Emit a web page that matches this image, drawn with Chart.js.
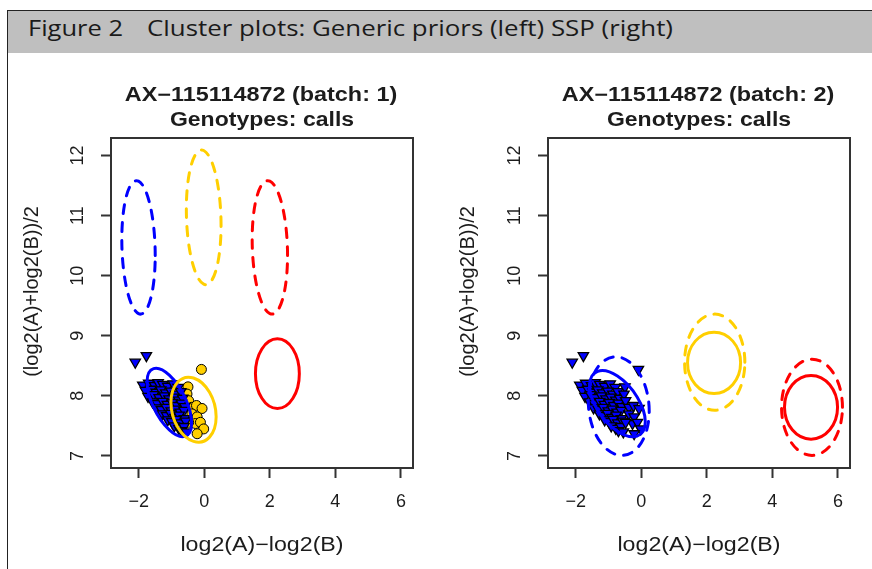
<!DOCTYPE html>
<html><head><meta charset="utf-8">
<script src="https://cdn.jsdelivr.net/npm/chart.js@4/dist/chart.umd.min.js"></script>
<style>
html,body{margin:0;padding:0;background:#fff;}
#page{position:relative;width:872px;height:569px;overflow:hidden;background:#fff;}
#frame{position:absolute;left:7px;top:10px;width:900px;height:600px;border-left:1px solid #222;border-top:1px solid #222;}
#hdr{position:absolute;left:8px;top:11px;width:864px;height:42px;background:#bfbfbf;}
.ht{position:absolute;top:18px;font-family:"Open Sans",Roboto,sans-serif;font-size:21px;color:#1a1a1a;line-height:21px;white-space:nowrap;transform-origin:0 50%;}
canvas{position:absolute;top:0;}
</style></head><body>
<div id="page">
 <div id="frame"></div>
 <div id="hdr"></div>
 <span class="ht" id="h1" style="left:28px" data-w="95">Figure 2</span>
 <span class="ht" id="h2" style="left:147px" data-w="526">Cluster plots: Generic priors (left) SSP (right)</span>
 <canvas id="c1" width="436" height="569" style="left:0;width:436px;height:569px"></canvas>
 <canvas id="c2" width="436" height="569" style="left:436px;width:436px;height:569px"></canvas>
</div>
<script>
// ---------- data ----------
const xTickValues = [-2, 0, 2, 4, 6];
const xTickLabels = ['\u22122', '0', '2', '4', '6'];
const yTickValues = [7, 8, 9, 10, 11, 12];
const yTickLabels = ['7', '8', '9', '10', '11', '12'];

const titleBatch1 = ['AX\u2212115114872 (batch: 1)', 'Genotypes: calls'];
const titleBatch2 = ['AX\u2212115114872 (batch: 2)', 'Genotypes: calls'];
const xAxisTitle = 'log2(A)\u2212log2(B)';
const yAxisTitle = '(log2(A)+log2(B))/2';

// blue (triangle) calls
const blueX = [-2.11, -1.77,
  -1.88, -1.70, -1.52, -1.41, -1.27, -1.12, -0.95, -0.80,
  -1.80, -1.63, -1.47, -1.33, -1.18, -1.02, -0.87, -0.72,
  -1.72, -1.55, -1.38, -1.22, -1.08, -0.93, -0.78, -0.66,
  -1.58, -1.44, -1.27, -1.13, -0.98, -0.84, -0.70, -0.60,
  -1.46, -1.31, -1.16, -1.01, -0.88, -0.74, -0.62,
  -1.28, -1.15, -1.03, -0.90, -0.77, -0.61,
  -1.12, -0.99, -0.86, -0.72, -0.57,
  -0.92, -0.78, -0.62,
  -0.70, -0.55];
const blueY = [8.56, 8.67,
  8.18, 8.21, 8.17, 8.22, 8.19, 8.16, 8.20, 8.14,
  8.09, 8.11, 8.06, 8.10, 8.05, 8.08, 8.03, 8.07,
  7.99, 8.02, 7.97, 8.00, 7.95, 7.98, 7.93, 7.96,
  7.90, 7.87, 7.91, 7.86, 7.89, 7.84, 7.88, 7.82,
  7.80, 7.77, 7.81, 7.75, 7.78, 7.73, 7.76,
  7.70, 7.67, 7.71, 7.64, 7.68, 7.62,
  7.60, 7.57, 7.61, 7.55, 7.58,
  7.50, 7.46, 7.49,
  7.42, 7.40];
// gold (circle) calls
const goldX = [-0.09, -0.50, -0.53, -0.48, -0.38, -0.24, -0.07, -0.38, -0.22, -0.27, -0.48, -0.12, -0.02, -0.22];
const goldY = [8.44, 8.15, 8.03, 7.92, 7.81, 7.84, 7.79, 7.70, 7.65, 7.54, 7.56, 7.56, 7.45, 7.37];

// cluster ellipses, order: blue, gold, red
const b1PriorCX = [-2.01, -0.02, 2.00];
const b1PriorCY = [10.47, 10.97, 10.47];
const b1PriorSX = [0.51, 0.53, 0.54];
const b1PriorSY = [1.11, 1.12, 1.11];
const b1PriorRho = [-0.12, -0.12, -0.12];
const b1PostCX = [-1.07, -0.33, 2.23];
const b1PostCY = [7.89, 7.77, 8.37];
const b1PostSX = [0.68, 0.69, 0.67];
const b1PostSY = [0.57, 0.54, 0.58];
const b1PostRho = [-0.6, -0.22, 0];

const b2PriorCX = [-0.69, 2.24, 5.21];
const b2PriorCY = [7.83, 8.56, 7.81];
const b2PriorSX = [0.93, 0.92, 0.93];
const b2PriorSY = [0.82, 0.80, 0.80];
const b2PriorRho = [-0.1, 0, 0];
const b2PostCX = [-0.73, 2.22, 5.18];
const b2PostCY = [7.87, 8.55, 7.81];
const b2PostSX = [0.85, 0.81, 0.81];
const b2PostSY = [0.55, 0.51, 0.53];
const b2PostRho = [-0.55, 0, 0];

// ---------- header text width fit ----------
document.querySelectorAll('.ht').forEach(el => {
  const w = el.getBoundingClientRect().width;
  const target = parseFloat(el.dataset.w);
  if (w > 0) el.style.transform = 'scaleX(' + (target / w) + ')';
});

// ---------- styling ----------
const clusterColors = ['#0000ff', '#ffcf00', '#ff0000'];
const FONT = '"Liberation Sans", Arial, Helvetica, sans-serif';
const textColor = '#1c1c1c';

function pts(xs, ys) { return xs.map((x, i) => ({ x: x, y: ys[i] })); }

const boxPlugin = {
  id: 'rbox',
  afterDraw(chart) {
    const a = chart.chartArea, ctx = chart.ctx;
    ctx.save();
    ctx.strokeStyle = '#333';
    ctx.lineWidth = 2;
    ctx.strokeRect(a.left, a.top, a.right - a.left, a.bottom - a.top);
    ctx.restore();
  }
};

function ellipsePlugin(sets) {
  return {
    id: 'ellipses',
    afterDatasetsDraw(chart) {
      const ctx = chart.ctx, xs = chart.scales.x, ys = chart.scales.y, a = chart.chartArea;
      const kx = xs.getPixelForValue(1) - xs.getPixelForValue(0);
      const ky = ys.getPixelForValue(1) - ys.getPixelForValue(0);
      ctx.save();
      ctx.beginPath();
      ctx.rect(a.left, a.top, a.right - a.left, a.bottom - a.top);
      ctx.clip();
      sets.forEach(s => {
        for (let i = 0; i < s.cx.length; i++) {
          const px = xs.getPixelForValue(s.cx[i]), py = ys.getPixelForValue(s.cy[i]);
          const r = s.rho[i], q = Math.sqrt(1 - r * r);
          ctx.save();
          ctx.transform(kx * s.sx[i], ky * s.sy[i] * r, 0, ky * s.sy[i] * q, px, py);
          ctx.beginPath();
          ctx.arc(0, 0, 1, 0, Math.PI * 2);
          ctx.restore();
          ctx.lineWidth = 3;
          ctx.lineCap = 'round';
          ctx.strokeStyle = clusterColors[i];
          ctx.setLineDash(s.dash);
          ctx.stroke();
        }
      });
      ctx.restore();
    }
  };
}

function drawScaled(ctx, text, x, y, font, sx, sy) {
  ctx.save();
  ctx.translate(x, y);
  ctx.scale(sx, sy);
  ctx.font = font;
  ctx.fillText(text, 0, 0);
  ctx.restore();
}

function textPlugin(lines) {
  return {
    id: 'rtext',
    afterDraw(chart) {
      const ctx = chart.ctx, a = chart.chartArea;
      const cx = (a.left + a.right) / 2;
      ctx.save();
      ctx.fillStyle = textColor;
      ctx.textAlign = 'center';
      ctx.textBaseline = 'alphabetic';
      drawScaled(ctx, lines[0], cx - 1, 101, 'bold 19.5px ' + FONT, 1.2, 1);
      drawScaled(ctx, lines[1], cx, 126, 'bold 19.5px ' + FONT, 1.18, 1);
      drawScaled(ctx, xAxisTitle, cx, 551, '20px ' + FONT, 1.16, 1);
      ctx.save();
      ctx.translate(38, 291.5);
      ctx.rotate(-Math.PI / 2);
      ctx.font = '20px ' + FONT;
      ctx.fillText(yAxisTitle, 0, 0);
      ctx.restore();
      ctx.restore();
    }
  };
}

function makeChart(id, datasets, lines, ellipseSets, area) {
  const tickFont = { family: FONT, size: 18 };
  return new Chart(document.getElementById(id), {
    type: 'scatter',
    data: { datasets: datasets },
    options: {
      responsive: false,
      animation: false,
      devicePixelRatio: 1,
      events: [],
      layout: { padding: { left: area.left - 60, right: 436 - area.right, top: area.top, bottom: 569 - area.bottom - 60 } },
      plugins: { legend: { display: false }, tooltip: { enabled: false }, title: { display: false } },
      scales: {
        x: {
          type: 'linear', min: -2.85, max: 6.37,
          afterBuildTicks: s => { s.ticks = xTickValues.map(v => ({ value: v })); },
          afterFit: s => { s.height = 60; },
          ticks: { callback: (v, i) => xTickLabels[i], font: tickFont, color: textColor, padding: 13, maxRotation: 0, minRotation: 0, autoSkip: false },
          grid: { drawOnChartArea: false, drawTicks: true, tickLength: 10, tickWidth: 2, tickColor: '#333' },
          border: { display: false }
        },
        y: {
          type: 'linear', min: 6.80, max: 12.29,
          afterBuildTicks: s => { s.ticks = yTickValues.map(v => ({ value: v })); },
          afterFit: s => { s.width = 60; },
          ticks: { callback: (v, i) => yTickLabels[i], font: tickFont, color: textColor, padding: 13, minRotation: 90, maxRotation: 90, crossAlign: 'center', autoSkip: false },
          grid: { drawOnChartArea: false, drawTicks: true, tickLength: 10, tickWidth: 2, tickColor: '#333' },
          border: { display: false }
        }
      }
    },
    plugins: [boxPlugin, ellipsePlugin(ellipseSets), textPlugin(lines)]
  });
}

const triStyle = { pointStyle: 'triangle', rotation: 180, radius: 6, backgroundColor: clusterColors[0], borderColor: '#000', borderWidth: 1.3 };
const circStyle = { pointStyle: 'circle', radius: 5, backgroundColor: clusterColors[1], borderColor: '#000', borderWidth: 1 };

makeChart('c1', [
  Object.assign({ label: 'blue', data: pts(blueX, blueY) }, triStyle),
  Object.assign({ label: 'gold', data: pts(goldX, goldY) }, circStyle)
], titleBatch1, [
  { cx: b1PriorCX, cy: b1PriorCY, sx: b1PriorSX, sy: b1PriorSY, rho: b1PriorRho, dash: [9, 9] },
  { cx: b1PostCX, cy: b1PostCY, sx: b1PostSX, sy: b1PostSY, rho: b1PostRho, dash: [] }
], { left: 111, right: 413, top: 138, bottom: 468 });

makeChart('c2', [
  Object.assign({ label: 'blue', data: pts(blueX.concat(goldX), blueY.concat(goldY)) }, triStyle)
], titleBatch2, [
  { cx: b2PriorCX, cy: b2PriorCY, sx: b2PriorSX, sy: b2PriorSY, rho: b2PriorRho, dash: [9, 9] },
  { cx: b2PostCX, cy: b2PostCY, sx: b2PostSX, sy: b2PostSY, rho: b2PostRho, dash: [] }
], { left: 112, right: 414, top: 138, bottom: 468 });
</script>
</body></html>
